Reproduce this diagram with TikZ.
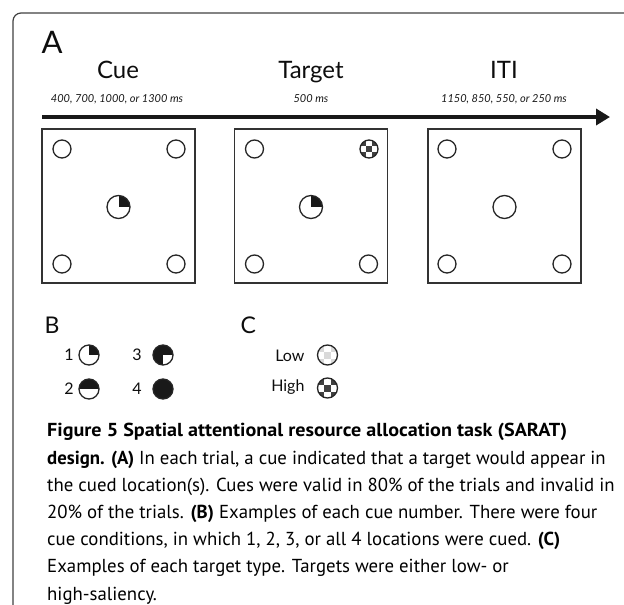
\documentclass[tikz,border=0pt]{standalone}
\usepackage{fontspec}
\setmainfont{PT Sans}
\newfontfamily\figfont{Lato}
\usetikzlibrary{arrows.meta}
\begin{document}
\begin{tikzpicture}[x=1pt,y=-1pt,
  frame/.style={draw=black!75, line width=1.2pt, rounded corners=8pt},
  box/.style={draw=black!80, line width=1.4pt, minimum width=153pt, minimum height=154pt, inner sep=0pt},
  loc/.style={circle, draw=black!85, line width=1.3pt, minimum size=18pt, inner sep=0pt},
  cen/.style={loc, minimum size=23pt},
  icon/.style={loc, minimum size=20pt},
  qone/.style={path picture={\fill[black!90] (path picture bounding box.center) rectangle (path picture bounding box.north east);}},
  qtwo/.style={path picture={\fill[black!90] (path picture bounding box.west) rectangle (path picture bounding box.north east);}},
  qthree/.style={path picture={\fill[black!90] (path picture bounding box.south west) rectangle (path picture bounding box.north);
      \fill[black!90] (path picture bounding box.center) rectangle (path picture bounding box.north east);}},
  qfour/.style={fill=black!90},
  chk/.style 2 args={path picture={\foreach \i/\j in {-1/-1,1/-1,0/0,-1/1,1/1}
      \fill[#1] ([shift={({(\i-0.5)*#2},{(\j-0.5)*#2})}]path picture bounding box.center) rectangle ++(#2,#2);}},
  ttl/.style={font=\figfont\fontsize{24}{24}\selectfont, anchor=base, text=black!95},
  dur/.style={font=\figfont\itshape\fontsize{11}{11}\selectfont, anchor=base, text=black!90},
  big/.style={font=\figfont\fontsize{23}{23}\selectfont, anchor=base west, text=black!95},
  lab/.style={font=\figfont\fontsize{16}{16}\selectfont, anchor=base, text=black!95},
  capline/.style={font=\fontsize{18.8}{18.8}\selectfont, anchor=base west, inner sep=0pt}
]
\useasboundingbox (0,0) rectangle (624,605);
% frame
\coordinate (fb) at (13,606);
\coordinate (fc) at (13,13);
\coordinate (fe) at (625,13);
\draw[frame] (fb) -- (fc) -- (fe);

% panel A
\node[font=\figfont\fontsize{31}{31}\selectfont, anchor=base west, text=black!95] (lA) at (38,53) {A};
\node[ttl] (tcue) at (118,78) {Cue};
\node[ttl] (ttar) at (311,78) {Target};
\node[ttl] (titi) at (504,78) {ITI};
\node[dur] (dcue) at (117,102) {400, 700, 1000, or 1300 ms};
\node[dur] (dtar) at (311,102) {500 ms};
\node[dur] (diti) at (504,102) {1150, 850, 550, or 250 ms};

\coordinate (as) at (42,117);
\coordinate (ae) at (610,117);
\draw[line width=4pt, black!90, -{Triangle[length=14pt,width=16pt]}] (as) -- (ae);

\node[box] (b1) at (118.5,206) {};
\node[box] (b2) at (311,206) {};
\node[box] (b3) at (504.5,206) {};

% box 1
\node[loc] (b1tl) at ([shift={(-56.5,-57)}]b1.center) {};
\node[loc] (b1tr) at ([shift={(57.5,-57)}]b1.center) {};
\node[loc] (b1bl) at ([shift={(-56.5,58)}]b1.center) {};
\node[loc] (b1br) at ([shift={(57.5,58)}]b1.center) {};
\node[cen, qone] (b1c) at ([shift={(0,1)}]b1.center) {};
% box 2
\node[loc] (b2tl) at ([shift={(-56.5,-57)}]b2.center) {};
\node[loc, chk={black!75}{6.3}] (b2tr) at ([shift={(58,-57)}]b2.center) {};
\node[loc] (b2bl) at ([shift={(-56.5,58)}]b2.center) {};
\node[loc] (b2br) at ([shift={(57.5,58)}]b2.center) {};
\node[cen, qone] (b2c) at ([shift={(0,1)}]b2.center) {};
% box 3
\node[loc] (b3tl) at ([shift={(-57.5,-57)}]b3.center) {};
\node[loc] (b3tr) at ([shift={(57.5,-57)}]b3.center) {};
\node[loc] (b3bl) at ([shift={(-57.5,58)}]b3.center) {};
\node[loc] (b3br) at ([shift={(57.5,58)}]b3.center) {};
\node[cen] (b3c) at ([shift={(0,1)}]b3.center) {};

% panel B
\node[big] (lB) at (41,333) {B};
\node[lab] (n1) at (69,360) {1};
\node[icon, qone] (i1) at (89,355) {};
\node[lab] (n3) at (137,360) {3};
\node[icon, qthree] (i3) at (163,355) {};
\node[lab] (n2) at (69,394) {2};
\node[icon, qtwo] (i2) at (89,389) {};
\node[lab] (n4) at (137,394) {4};
\node[icon, qfour] (i4) at (163,389) {};

% panel C
\node[big] (lC) at (237,333) {C};
\node[lab, anchor=base east] (low) at (308,361) {Low};
\node[icon, chk={black!15}{7}] (ilow) at (327.5,355) {};
\node[lab, anchor=base east] (high) at (308,391) {High};
\node[icon, chk={black!75}{7}] (ihigh) at (327.5,388) {};

% caption
\node[capline] (c1) at (47,436) {\scalebox{1.07}[1]{\textbf{Figure 5 Spatial attentional resource allocation task (SARAT)}}};
\node[capline] (c2) at (47,464) {\textbf{design. (A)} In each trial, a cue indicated that a target would appear in};
\node[capline] (c3) at (47,491) {the cued location(s). Cues were valid in 80\% of the trials and invalid in};
\node[capline] (c4) at (47,518) {20\% of the trials. \textbf{(B)} Examples of each cue number. There were four};
\node[capline] (c5) at (47,545) {cue conditions, in which 1, 2, 3, or all 4 locations were cued. \textbf{(C)}};
\node[capline] (c6) at (47,572) {Examples of each target type. Targets were either low- or};
\node[capline] (c7) at (47,600) {high-saliency.};
\end{tikzpicture}
\end{document}
